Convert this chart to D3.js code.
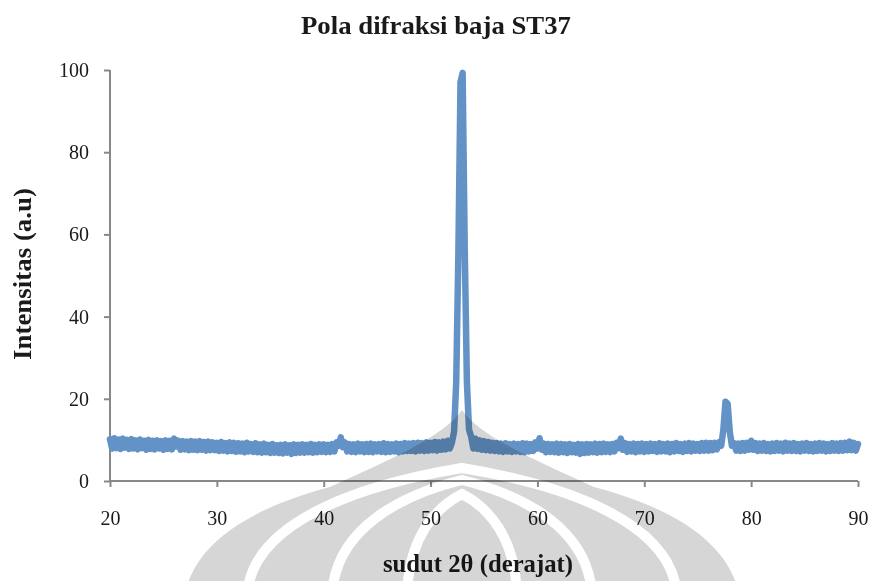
<!DOCTYPE html>
<html>
<head>
<meta charset="utf-8">
<script src="https://cdn.jsdelivr.net/npm/d3@7"></script>
<style>
  html, body { margin: 0; padding: 0; background: #fff; }
  svg { display: block; }
  text { font-family: "Liberation Serif", "Times New Roman", serif; fill: #1a1a1a; }
</style>
</head>
<body>
<svg id="chart" width="872" height="581"></svg>
<script>
// XRD scan of ST37 steel: intensity (a.u.) every 0.2 degrees of 2θ from 20 to 90
const scanStart = 20;
const scanStep = 0.2;
const intensity = [
  10.2, 7.9, 10.4, 8.0, 10.1, 7.8, 10.3, 8.1, 10.0, 7.8,   // 20.0 - 21.8
  10.2, 7.9, 9.9, 7.7, 10.1, 8.0, 9.8, 7.6, 10.0, 7.8,     // 22.0 - 23.8
  9.8, 7.7, 9.9, 7.9, 9.7, 7.6, 9.9, 7.8, 9.8, 7.7,        // 24.0 - 25.8
  10.3, 8.4, 9.8, 7.6, 9.7, 7.7, 9.6, 7.5, 9.7, 7.6,       // 26.0 - 27.8
  9.6, 7.5, 9.7, 7.6, 9.5, 7.4, 9.6, 7.5, 9.4, 7.5,        // 28.0 - 29.8
  9.3, 7.3, 9.5, 7.4, 9.2, 7.2, 9.4, 7.3, 9.3, 7.1,        // 30.0 - 31.8
  9.2, 7.2, 9.1, 7.0, 9.3, 7.2, 9.0, 7.1, 9.2, 7.0,        // 32.0 - 33.8
  8.9, 6.9, 9.1, 7.0, 8.8, 6.8, 9.0, 6.9, 8.7, 6.8,        // 34.0 - 35.8
  8.8, 6.7, 8.9, 6.9, 8.7, 6.6, 8.9, 6.8, 8.8, 6.9,        // 36.0 - 37.8
  8.9, 6.9, 8.8, 7.0, 9.0, 6.9, 8.8, 7.0, 8.9, 7.1,        // 38.0 - 39.8
  8.9, 7.0, 8.8, 7.1, 9.0, 7.2, 9.4, 8.6, 10.6, 8.2,       // 40.0 - 41.8
  9.4, 7.2, 9.0, 7.1, 8.9, 7.0, 9.1, 7.2, 8.9, 7.0,        // 42.0 - 43.8
  9.0, 7.1, 9.1, 7.0, 8.9, 7.2, 9.0, 7.1, 9.2, 7.0,        // 44.0 - 45.8
  9.0, 7.1, 8.9, 7.2, 9.1, 7.0, 9.0, 7.2, 9.2, 7.3,        // 46.0 - 47.8
  9.1, 7.3, 9.2, 7.2, 9.3, 7.4, 9.2, 7.3, 9.4, 7.4,        // 48.0 - 49.8
  9.3, 7.5, 9.5, 7.4, 9.4, 7.6, 9.6, 7.7, 9.8, 7.9,        // 50.0 - 51.8
  9.4, 12.0, 24.0, 55.0, 97.0, 99.3, 56.0, 24.0, 12.5, 10.8, // 52.0 - 53.8
  7.9, 10.3, 7.8, 9.9, 7.6, 9.7, 7.5, 9.5, 7.4, 9.3,       // 54.0 - 55.8
  7.3, 9.2, 7.2, 9.1, 7.1, 9.2, 7.2, 9.0, 7.1, 9.1,        // 56.0 - 57.8
  7.2, 9.0, 7.1, 9.2, 7.0, 9.1, 7.2, 9.0, 7.3, 9.4,        // 58.0 - 59.8
  7.9, 10.4, 7.6, 9.1, 7.0, 9.0, 7.1, 8.9, 7.0, 9.1,       // 60.0 - 61.8
  6.9, 9.0, 7.0, 8.9, 6.8, 9.0, 7.0, 8.8, 6.9, 9.0,        // 62.0 - 63.8
  6.6, 8.9, 6.8, 9.0, 6.9, 8.9, 7.0, 9.1, 6.9, 9.0,        // 64.0 - 65.8
  7.0, 9.1, 7.1, 8.9, 7.0, 9.0, 7.2, 9.3, 8.0, 10.3,       // 66.0 - 67.8
  7.6, 9.2, 7.1, 9.0, 7.2, 9.1, 7.0, 9.0, 7.2, 9.1,        // 68.0 - 69.8
  7.1, 9.0, 7.2, 9.1, 7.3, 9.0, 7.1, 9.2, 7.2, 9.0,        // 70.0 - 71.8
  7.2, 9.1, 7.0, 9.0, 7.2, 9.2, 7.3, 9.0, 7.1, 9.1,        // 72.0 - 73.8
  7.3, 9.2, 7.2, 9.1, 7.4, 9.0, 7.3, 9.2, 7.4, 9.3,        // 74.0 - 75.8
  7.4, 9.2, 7.5, 9.3, 7.7, 9.4, 8.6, 12.5, 19.3, 18.8,     // 76.0 - 77.8
  12.0, 8.6, 9.2, 7.4, 9.1, 7.3, 9.2, 7.4, 9.3, 7.6,       // 78.0 - 79.8
  9.8, 7.6, 9.2, 7.3, 9.1, 7.4, 9.2, 7.3, 9.0, 7.2,        // 80.0 - 81.8
  9.1, 7.3, 9.2, 7.4, 9.1, 7.2, 9.3, 7.4, 9.1, 7.3,        // 82.0 - 83.8
  9.2, 7.3, 9.0, 7.2, 9.1, 7.4, 9.2, 7.3, 9.0, 7.2,        // 84.0 - 85.8
  9.1, 7.3, 9.2, 7.4, 9.1, 7.2, 9.0, 7.3, 9.2, 7.4,        // 86.0 - 87.8
  9.1, 7.3, 9.2, 7.4, 9.3, 7.5, 9.6, 7.5, 9.3, 7.4,        // 88.0 - 89.8
  9.0                                                      // 90.0
];

const xTicks = [20, 30, 40, 50, 60, 70, 80, 90];
const yTicks = [0, 20, 40, 60, 80, 100];

const chartTitle = "Pola difraksi baja ST37";
const xTitle = "sudut 2θ (derajat)";
const yTitle = "Intensitas (a.u)";

const svg = d3.select("#chart");
svg.append("rect").attr("width", 872).attr("height", 581).attr("fill", "#fff");

const x = d3.scaleLinear().domain([20, 90]).range([110, 858]);
const y = d3.scaleLinear().domain([0, 100]).range([481, 70]);

const axisColor = "#888888";

// axes
const xAxis = svg.append("g")
  .attr("transform", "translate(0,481)")
  .call(d3.axisBottom(x).tickValues(xTicks).tickSize(6).tickPadding(24).tickFormat(d3.format("d")));
const yAxis = svg.append("g")
  .attr("transform", "translate(110,0)")
  .call(d3.axisLeft(y).tickValues(yTicks).tickSize(6).tickPadding(15).tickFormat(d3.format("d")));

[xAxis, yAxis].forEach(g => {
  g.select(".domain").attr("stroke", axisColor).attr("stroke-width", 2);
  g.selectAll(".tick line").attr("stroke", axisColor).attr("stroke-width", 2);
  g.selectAll(".tick text")
    .attr("fill", "#1a1a1a")
    .style("font-family", '"Liberation Serif", "Times New Roman", serif')
    .style("font-size", "20px");
});
xAxis.select(".domain").attr("d", "M110,0H858");
yAxis.select(".domain").attr("d", "M0,70V481");

// diffraction pattern
const line = d3.line()
  .x((d, i) => x(scanStart + i * scanStep))
  .y(d => y(d));

svg.append("path")
  .datum(intensity)
  .attr("d", line)
  .attr("fill", "none")
  .attr("stroke", "#6393c6")
  .attr("stroke-width", 6.5)
  .attr("stroke-linejoin", "round")
  .attr("stroke-linecap", "round");

// titles
svg.append("text")
  .attr("x", 436).attr("y", 34)
  .attr("text-anchor", "middle")
  .attr("font-weight", "bold")
  .attr("font-size", 26)
  .attr("textLength", 270).attr("lengthAdjust", "spacingAndGlyphs")
  .text(chartTitle);

svg.append("text")
  .attr("x", 478).attr("y", 572)
  .attr("text-anchor", "middle")
  .attr("font-weight", "bold")
  .attr("font-size", 25)
  .attr("textLength", 190).attr("lengthAdjust", "spacingAndGlyphs")
  .text(xTitle);

svg.append("text")
  .attr("transform", "translate(31,274) rotate(-90)")
  .attr("text-anchor", "middle")
  .attr("font-weight", "bold")
  .attr("font-size", 25)
  .attr("textLength", 172).attr("lengthAdjust", "spacingAndGlyphs")
  .text(yTitle);

// faint university emblem printed over the lower part of the page
const emblem = svg.append("g").style("mix-blend-mode", "multiply");
emblem.append("path")
  .attr("d", "M462,410 C445,436 385,462 330,487 C258,506 192,540 184,600 " +
             "L740,600 C732,540 666,506 594,487 C539,462 479,436 462,410 Z")
  .attr("fill", "#d6d6d6");
function arch(w, top) {
  const cx = 462, b = 600, h = b - top;
  return `M${cx - w},${b} C${cx - w},${b - h * 0.6} ${cx - w * 0.45},${top + h * 0.12} ${cx},${top} ` +
         `C${cx + w * 0.45},${top + h * 0.12} ${cx + w},${b - h * 0.6} ${cx + w},${b}`;
}
[[215, 468], [130, 480], [55, 494]].forEach(([w, t]) => {
  emblem.append("path").attr("d", arch(w, t)).attr("fill", "none")
    .attr("stroke", "#fff").attr("stroke-width", 10);
});
</script>
</body>
</html>
